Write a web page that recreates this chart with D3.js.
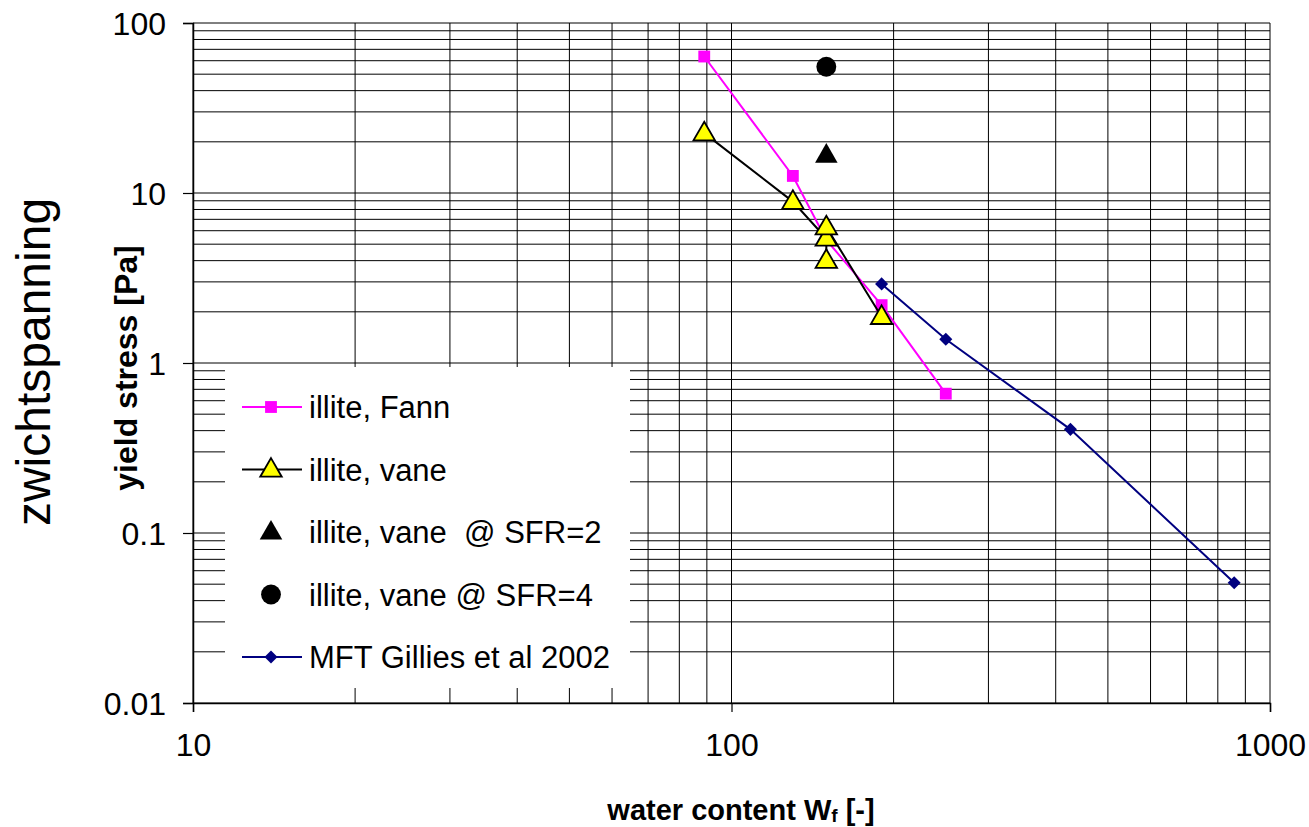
<!DOCTYPE html>
<html>
<head>
<meta charset="utf-8">
<script src="https://cdn.jsdelivr.net/npm/d3@7"></script>
<style>
  html, body { margin: 0; padding: 0; background: #fff; }
  svg { display: block; }
  text { font-family: "Liberation Sans", Arial, sans-serif; fill: #000; }
</style>
</head>
<body>
<svg id="chart" width="1309" height="827"></svg>
<script>
// ---- data ----
const xTickValues = [10, 100, 1000];
const xTickLabels = ["10", "100", "1000"];
const yTickValues = [0.01, 0.1, 1, 10, 100];
const yTickLabels = ["0.01", "0.1", "1", "10", "100"];

const fannW = [89, 130, 150, 190, 250];
const fannTau = [63.5, 12.6, 5.3, 2.19, 0.66];

const vaneW = [89, 130, 150, 150, 150, 190];
const vaneTau = [22.5, 8.9, 5.4, 4.0, 6.3, 1.87];

const sfr2W = [150];
const sfr2Tau = [16.7];

const sfr4W = [150];
const sfr4Tau = [55.3];

const mftW = [190, 250, 426, 858];
const mftTau = [2.92, 1.38, 0.407, 0.051];

const seriesNames = ["illite, Fann", "illite, vane", "illite, vane  @ SFR=2", "illite, vane @ SFR=4", "MFT Gillies et al 2002"];

// ---- chart ----
const svg = d3.select("#chart");
const x = d3.scaleLog().domain([10, 1000]).range([193, 1270]);
const y = d3.scaleLog().domain([0.01, 100]).range([703, 23]);

// grid
const grid = svg.append("g");
grid.selectAll("line.h").data(y.ticks()).join("line")
  .attr("x1", x.range()[0]).attr("x2", x.range()[1])
  .attr("y1", d => y(d)).attr("y2", d => y(d))
  .attr("stroke", "#000").attr("stroke-width", 1);
grid.selectAll("line.v").data(x.ticks()).join("line")
  .attr("y1", y.range()[0]).attr("y2", y.range()[1])
  .attr("x1", d => x(d)).attr("x2", d => x(d))
  .attr("stroke", "#000").attr("stroke-width", 1);

// axes
const yAxis = d3.axisLeft(y).tickValues(yTickValues).tickFormat((d, i) => yTickLabels[i]).tickSize(10).tickPadding(17);
const xAxis = d3.axisBottom(x).tickValues(xTickValues).tickFormat((d, i) => xTickLabels[i]).tickSize(9).tickPadding(24);
const gy = svg.append("g").attr("transform", `translate(${x.range()[0]},0)`).call(yAxis);
const gx = svg.append("g").attr("transform", `translate(0,${y.range()[0]})`).call(xAxis);
[gy, gx].forEach(g => {
  g.select(".domain").attr("stroke", "#000").attr("stroke-width", 1.5);
  g.selectAll(".tick line").attr("stroke", "#000").attr("stroke-width", 1.2);
  g.selectAll(".tick text").attr("font-size", 32).attr("font-family", "Liberation Sans, Arial, sans-serif").attr("fill", "#000");
});
gy.selectAll(".tick text").attr("dy", "0.36em");
gx.selectAll(".tick text").attr("dy", "0.62em");

// symbols
const sqr = d3.symbol().type(d3.symbolSquare).size(140);
const triY = d3.symbol().type(d3.symbolTriangle).size(200);
const triB = d3.symbol().type(d3.symbolTriangle).size(220);
const circ = d3.symbol().type(d3.symbolCircle).size(310);
const diam = d3.symbol().type(d3.symbolSquare).size(85);

function toPts(ws, ts) { return ws.map((w, i) => [w, ts[i]]); }
const line = d3.line().x(d => x(d[0])).y(d => y(d[1]));

// Fann
const fann = toPts(fannW, fannTau);
svg.append("path").attr("d", line(fann)).attr("fill", "none").attr("stroke", "#FF00FF").attr("stroke-width", 2);
svg.selectAll("path.fann").data(fann).join("path").attr("class", "fann")
  .attr("transform", d => `translate(${x(d[0])},${y(d[1])})`).attr("d", sqr).attr("fill", "#FF00FF");

// vane
const vane = toPts(vaneW, vaneTau);
svg.append("path").attr("d", line(vane)).attr("fill", "none").attr("stroke", "#000").attr("stroke-width", 2);
svg.selectAll("path.vane").data(vane).join("path").attr("class", "vane")
  .attr("transform", d => `translate(${x(d[0])},${y(d[1]) + 1})`).attr("d", triY)
  .attr("fill", "#FFFF00").attr("stroke", "#000").attr("stroke-width", 1.8);

// SFR2
svg.selectAll("path.sfr2").data(toPts(sfr2W, sfr2Tau)).join("path").attr("class", "sfr2")
  .attr("transform", d => `translate(${x(d[0])},${y(d[1]) + 1})`).attr("d", triB).attr("fill", "#000");

// SFR4
svg.selectAll("path.sfr4").data(toPts(sfr4W, sfr4Tau)).join("path").attr("class", "sfr4")
  .attr("transform", d => `translate(${x(d[0])},${y(d[1])})`).attr("d", circ).attr("fill", "#000");

// MFT
const mft = toPts(mftW, mftTau);
svg.append("path").attr("d", line(mft)).attr("fill", "none").attr("stroke", "#000080").attr("stroke-width", 2);
svg.selectAll("path.mft").data(mft).join("path").attr("class", "mft")
  .attr("transform", d => `translate(${x(d[0])},${y(d[1])}) rotate(45)`).attr("d", diam).attr("fill", "#000080");

// legend
const lg = svg.append("g");
lg.append("rect").attr("x", 225).attr("y", 367).attr("width", 405).attr("height", 321).attr("fill", "#fff");
const rowY = i => 407 + i * 62.5;
const legendDefs = [
  { line: "#FF00FF", sym: sqr, fill: "#FF00FF", stroke: null, dy: 0, rot: 0 },
  { line: "#000", sym: triY, fill: "#FFFF00", stroke: "#000", dy: 1, rot: 0 },
  { line: null, sym: triB, fill: "#000", stroke: null, dy: 1, rot: 0 },
  { line: null, sym: circ, fill: "#000", stroke: null, dy: 0, rot: 0 },
  { line: "#000080", sym: diam, fill: "#000080", stroke: null, dy: 0, rot: 45 }
];
legendDefs.forEach((d, i) => {
  const cy = rowY(i);
  if (d.line) lg.append("line").attr("x1", 242).attr("x2", 302).attr("y1", cy).attr("y2", cy).attr("stroke", d.line).attr("stroke-width", 2);
  const p = lg.append("path").attr("transform", `translate(271,${cy + d.dy}) rotate(${d.rot})`).attr("d", d.sym).attr("fill", d.fill);
  if (d.stroke) p.attr("stroke", d.stroke).attr("stroke-width", 1.8);
  lg.append("text").attr("x", 309).attr("y", cy + 11).attr("font-size", 31).attr("xml:space", "preserve")
    .style("white-space", "pre").text(seriesNames[i]);
});

// axis titles
const xt = svg.append("text").attr("x", 741).attr("y", 820).attr("text-anchor", "middle")
  .attr("font-size", 29).attr("font-weight", "bold");
xt.append("tspan").text("water content W");
xt.append("tspan").attr("font-size", 19).attr("dy", 2).text("f");
xt.append("tspan").attr("dy", -2).text(" [-]");

svg.append("text").attr("transform", "translate(137,368) rotate(-90)").attr("text-anchor", "middle")
  .attr("font-size", 32).attr("font-weight", "bold").text("yield stress [Pa]");

svg.append("text").attr("transform", "translate(50,362) rotate(-90)").attr("text-anchor", "middle")
  .attr("font-size", 48).text("zwichtspanning");
</script>
</body>
</html>
